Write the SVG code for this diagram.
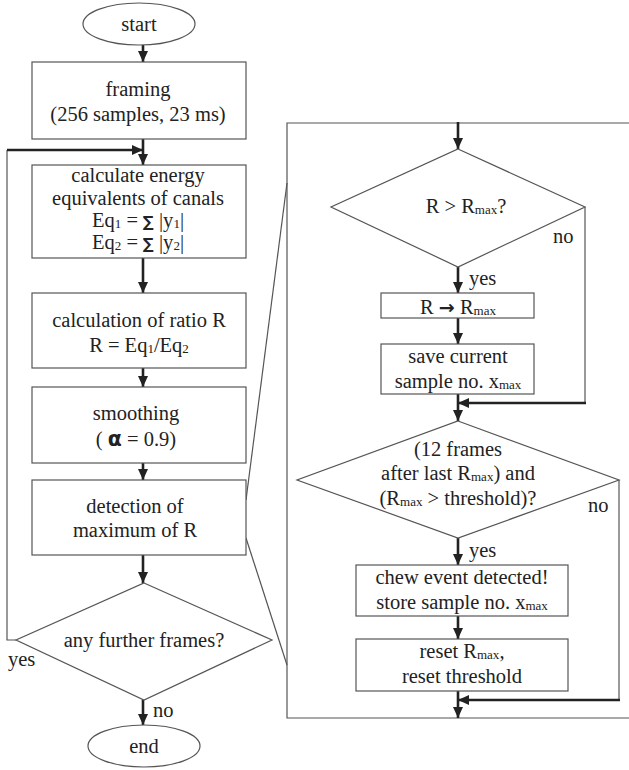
<svg xmlns="http://www.w3.org/2000/svg" width="629" height="770" viewBox="0 0 629 770">
<defs>
<marker id="ah" markerUnits="userSpaceOnUse" markerWidth="12" markerHeight="12" viewBox="0 0 12 12" refX="11" refY="6" orient="auto">
<path d="M0,1 L11,6 L0,11 Z" fill="#222"/>
</marker>
</defs>
<style>
.box{fill:#fff;stroke:#555;stroke-width:1.2}
.thin{fill:none;stroke:#555;stroke-width:1.2}
.c{fill:none;stroke:#222;stroke-width:2.6}
.ca{fill:none;stroke:#222;stroke-width:2.6;marker-end:url(#ah)}
text{font-family:"Liberation Serif","Times New Roman",serif;font-size:20.5px;fill:#222;text-anchor:middle}
.l{text-anchor:start}
.s{font-size:13px}
.sym{font-family:"DejaVu Sans",sans-serif;font-weight:bold}
.sig{font-family:"DejaVu Sans",sans-serif;font-weight:bold;font-size:15px}
</style>
<rect width="629" height="770" fill="#fff"/>

<!-- zoom lines and outer frame -->
<g id="zoomframe">
<path class="thin" d="M629,123 L287,123 L287,718 L629,718"/>
<line class="thin" x1="246" y1="500" x2="287" y2="183"/>
<line class="thin" x1="246" y1="538" x2="287" y2="665"/>
</g>

<g id="connectors">
<line class="ca" x1="143" y1="45" x2="143" y2="62"/>
<line class="ca" x1="143" y1="139" x2="143" y2="165"/>
<polyline class="thin" points="16,640 7,640 7,150"/>
<line class="ca" x1="7" y1="150" x2="143" y2="150"/>
<line class="ca" x1="143" y1="258" x2="143" y2="293"/>
<line class="ca" x1="143" y1="368" x2="143" y2="387"/>
<line class="ca" x1="143" y1="463" x2="143" y2="480"/>
<line class="ca" x1="143" y1="555" x2="143" y2="583"/>
<line class="ca" x1="143" y1="700" x2="143" y2="725"/>
<text class="l" x="8" y="666">yes</text>
<text class="l" x="153" y="717">no</text>

<line class="ca" x1="458" y1="122" x2="458" y2="149"/>
<line class="ca" x1="458" y1="267" x2="458" y2="293"/>
<line class="ca" x1="458" y1="318" x2="458" y2="344"/>
<line class="ca" x1="458" y1="394" x2="458" y2="421"/>
<polyline class="thin" points="585,207 585,403"/>
<line class="ca" x1="586" y1="403" x2="458" y2="403"/>
<text class="l" x="469" y="285">yes</text>
<text class="l" x="553" y="243">no</text>
<line class="ca" x1="458" y1="538" x2="458" y2="565"/>
<line class="ca" x1="458" y1="616" x2="458" y2="639"/>
<line class="ca" x1="458" y1="691" x2="458" y2="718"/>
<polyline class="thin" points="619,480 619,700"/>
<line class="ca" x1="620" y1="700" x2="458" y2="700"/>
<text class="l" x="469" y="557">yes</text>
<text class="l" x="588" y="512">no</text>
</g>

<g id="start">
<ellipse class="box" cx="139" cy="24" rx="56" ry="21"/>
<text x="139" y="31">start</text>
</g>

<g id="framing">
<rect class="box" x="32" y="62" width="214" height="77"/>
<text x="138" y="96">framing</text>
<text x="138" y="121">(256 samples, 23 ms)</text>
</g>

<g id="energy">
<rect class="box" x="32" y="165" width="214" height="93"/>
<text x="138" y="182">calculate energy</text>
<text x="138" y="205">equivalents of canals</text>
<text x="138" y="227">Eq<tspan class="s" dy="1">1</tspan><tspan dy="-1"> = </tspan><tspan class="sig">∑</tspan> |y<tspan class="s" dy="1">1</tspan><tspan dy="-1">|</tspan></text>
<text x="138" y="249">Eq<tspan class="s" dy="1">2</tspan><tspan dy="-1"> = </tspan><tspan class="sig">∑</tspan> |y<tspan class="s" dy="1">2</tspan><tspan dy="-1">|</tspan></text>
</g>

<g id="ratio">
<rect class="box" x="32" y="293" width="214" height="75"/>
<text x="139" y="327">calculation of ratio R</text>
<text x="139" y="352">R = Eq<tspan class="s" dy="1">1</tspan><tspan dy="-1">/Eq</tspan><tspan class="s" dy="1">2</tspan></text>
</g>

<g id="smoothing">
<rect class="box" x="32" y="387" width="214" height="76"/>
<text x="136" y="420">smoothing</text>
<text x="136" y="446">( <tspan class="sym">α</tspan>  = 0.9)</text>
</g>

<g id="detection">
<rect class="box" x="32" y="480" width="214" height="75"/>
<text x="135" y="513">detection of</text>
<text x="135" y="537">maximum of R</text>
</g>

<g id="further">
<polygon class="box" points="144,583 272,640 144,700 16,640"/>
<text x="144" y="647">any further frames?</text>
</g>

<g id="end">
<ellipse class="box" cx="144" cy="746" rx="56" ry="21"/>
<text x="144" y="753">end</text>
</g>

<g id="rgtmax">
<polygon class="box" points="458,149 585,207 458,267 331,207"/>
<text x="466" y="213">R &gt; R<tspan class="s" dy="1">max</tspan><tspan dy="-1">?</tspan></text>
</g>

<g id="setmax">
<rect class="box" x="381" y="293" width="153" height="25"/>
<text x="458" y="314">R <tspan class="sym" font-size="19">→</tspan> R<tspan class="s" dy="1">max</tspan></text>
</g>

<g id="save">
<rect class="box" x="381" y="344" width="153" height="50"/>
<text x="458" y="363">save current</text>
<text x="458" y="388">sample no. x<tspan class="s" dy="1">max</tspan></text>
</g>

<g id="cond">
<polygon class="box" points="458,421 619,480 458,538 297,480"/>
<text x="458" y="456">(12 frames</text>
<text x="458" y="480">after last R<tspan class="s" dy="1">max</tspan><tspan dy="-1">) and</tspan></text>
<text x="458" y="505">(R<tspan class="s" dy="1">max</tspan><tspan dy="-1"> &gt; threshold)?</tspan></text>
</g>

<g id="chew">
<rect class="box" x="356" y="565" width="212" height="51"/>
<text x="462" y="584">chew event detected!</text>
<text x="462" y="609">store sample no. x<tspan class="s" dy="1">max</tspan></text>
</g>

<g id="reset">
<rect class="box" x="356" y="639" width="212" height="52"/>
<text x="462" y="658">reset R<tspan class="s" dy="1">max</tspan><tspan dy="-1">,</tspan></text>
<text x="462" y="683">reset threshold</text>
</g>
</svg>
